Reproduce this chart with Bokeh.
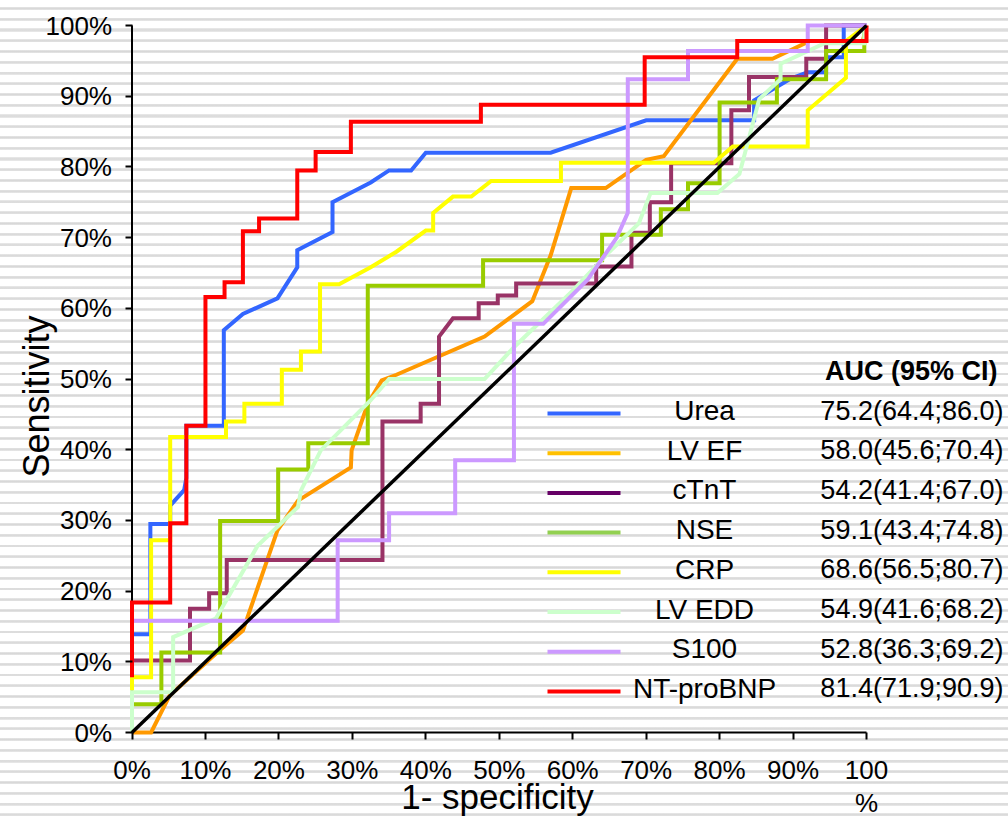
import math
from bokeh.plotting import figure
from bokeh.models import Range1d, FixedTicker, Label
from bokeh.embed import file_html
from bokeh.resources import INLINE

# ---------------- data (percent) ----------------
names = ["Urea", "LV EF", "cTnT", "NSE", "CRP", "LV EDD", "S100", "NT-proBNP"]
auc_text = ["75.2(64.4;86.0)", "58.0(45.6;70.4)", "54.2(41.4;67.0)", "59.1(43.4;74.8)",
            "68.6(56.5;80.7)", "54.9(41.6;68.2)", "52.8(36.3;69.2)", "81.4(71.9;90.9)"]
line_colors = ["#3366FF", "#FF9900", "#993366", "#99CC00", "#FFFF00", "#CCFFCC", "#CC99FF", "#FF0000"]
legend_colors = ["#3366FF", "#FFC000", "#660066", "#92D050", "#FFFF00", "#CCFFCC", "#CC99FF", "#FF0000"]

urea_x = [0, 2.5, 2.5, 5.2, 5.2, 7.1, 7.4, 7.4, 12.5, 12.5, 15.1, 19.8, 22.5, 22.5, 27.3, 27.3, 32.5,
          35, 38, 40, 57, 70, 84.7, 84.7, 89.7, 92, 94.5, 94.5, 96.9, 96.9, 100]
urea_y = [13.9, 13.9, 29.5, 29.5, 32.1, 34.3, 36, 43.4, 43.4, 56.9, 59.2, 61.4, 65.8, 68.2, 70.8, 75,
          77.8, 79.5, 79.5, 82, 82, 86.6, 86.6, 89.4, 92.5, 93.4, 93.4, 95.5, 95.5, 100, 100]

lvef_x = [0, 2.6, 5.1, 11.9, 15.1, 19.8, 22.6, 29.8, 29.9, 32.1, 34, 36, 48, 54.5, 57, 59.8, 64.5,
          70, 72.4, 82.4, 87.2, 92.3, 99.5, 100]
lvef_y = [0, 0, 5.2, 11.6, 14.4, 28.6, 32.8, 37.5, 39.9, 46.5, 49.8, 50.6, 56, 61, 67.5, 77, 77,
          81, 81.5, 95.3, 95.3, 97.8, 97.8, 100]

ctnt_x = [0, 7.9, 7.9, 10.5, 10.5, 12.9, 12.9, 34.1, 34.1, 39.3, 39.3, 41.8, 41.8, 43.7, 47.2, 47.2,
          49.8, 49.8, 52.3, 52.3, 63.2, 63.2, 68, 68, 70.5, 70.5, 73.4, 73.4, 81.6, 81.6, 84, 84,
          91.8, 91.8, 94.5, 94.5, 100]
ctnt_y = [10.2, 10.2, 17.5, 17.5, 19.7, 19.7, 24.4, 24.4, 44, 44, 46.5, 46.5, 56, 58.6, 58.6, 60.7,
          60.7, 61.8, 61.8, 63.5, 63.5, 65.9, 65.9, 70.7, 70.7, 75, 75, 80.5, 80.5, 88, 88, 92.7,
          92.7, 95.3, 95.3, 100, 100]

nse_x = [0, 4, 4, 12, 12, 19.9, 19.9, 24, 24, 32.1, 32.1, 47.8, 47.8, 64, 64, 72, 72, 75.7, 75.7,
         80, 80, 87.8, 87.8, 94.5, 94.5, 99.7, 99.7]
nse_y = [4, 4, 11.3, 11.3, 29.9, 29.9, 37.2, 37.2, 40.9, 40.9, 63.2, 63.2, 66.8, 66.8, 70.4, 70.4,
         74, 74, 77.7, 77.7, 89.1, 89.1, 92.4, 92.4, 96.4, 96.4, 100]

crp_x = [0, 0, 2.6, 2.6, 5.2, 5.2, 12.8, 12.8, 15.3, 15.3, 20.4, 20.4, 23, 23, 25.6, 25.6, 28.2,
         32.5, 36, 40, 41, 41, 43.7, 46.2, 48.9, 58.4, 58.4, 79.2, 81.8, 92, 92, 97.2, 97.2, 100]
crp_y = [5.9, 7.8, 7.8, 27.2, 27.2, 41.8, 41.8, 44, 44, 46.5, 46.5, 51.3, 51.3, 53.9, 53.9, 63.4,
         63.4, 65.8, 68, 71, 71, 73.5, 75.8, 75.8, 78, 78, 80.6, 80.6, 82.9, 82.9, 88, 92.6, 97.8, 100]

lvedd_x = [0, 0, 5.6, 5.6, 11.4, 17.1, 22.6, 23, 25.7, 32.5, 35, 48, 52, 60, 65, 69, 70.6, 79.7,
           82.7, 85.4, 88.3, 88.3, 94.3, 99.7, 99.7]
lvedd_y = [0, 5.7, 5.7, 13.5, 16.1, 26.4, 31.9, 34.2, 39.9, 47, 50, 50, 54.5, 62.5, 68, 72, 76.3,
           76.3, 79, 89.6, 92.4, 94.6, 97.5, 97.5, 100]

s100_x = [0, 28, 28, 35, 35, 44, 44, 52, 52, 56, 62, 66, 67.5, 67.5, 75.7, 75.7, 92, 92, 100]
s100_y = [15.8, 15.8, 27.2, 27.2, 31, 31, 38.5, 38.5, 57.8, 57.8, 64, 70, 73.5, 92.4, 92.4, 96.4,
          96.4, 100, 100]

bnp_x = [0, 0, 5.2, 5.2, 7.4, 7.4, 10, 10, 12.6, 12.6, 15.1, 15.1, 17.3, 17.3, 22.5, 22.5, 25, 25,
         29.8, 29.8, 47.5, 47.5, 69.8, 69.8, 82.4, 82.4, 100, 100]
bnp_y = [7.8, 18.4, 18.4, 29.6, 29.6, 43.4, 43.4, 61.6, 61.6, 63.7, 63.7, 70.9, 70.9, 72.7, 72.7,
         79.5, 79.5, 82.1, 82.1, 86.4, 86.4, 88.8, 88.8, 95.5, 95.5, 97.8, 97.8, 100]

ref_x = [0, 100]
ref_y = [0, 100]

ticks = [0, 10, 20, 30, 40, 50, 60, 70, 80, 90, 100]
x_tick_labels = ["0%", "10%", "20%", "30%", "40%", "50%", "60%", "70%", "80%", "90%", "100\n%"]
y_tick_labels = ["0%", "10%", "20%", "30%", "40%", "50%", "60%", "70%", "80%", "90%", "100%"]
x_title = "1- specificity"
y_title = "Sensitivity"
legend_header = "AUC (95% CI)"

series_x = [urea_x, lvef_x, ctnt_x, nse_x, crp_x, lvedd_x, s100_x, bnp_x]
series_y = [urea_y, lvef_y, ctnt_y, nse_y, crp_y, lvedd_y, s100_y, bnp_y]

# ---------------- layout ----------------
FONT = "Liberation Sans"
W, H = 1008, 818
ORIGIN_X, ORIGIN_Y = 131.5, 732.0      # pixel position of (0%, 0%)
px_x = 734.5 / 100.0                   # px per percent horizontally
px_y = 707.0 / 100.0                   # px per percent vertically
x0 = -ORIGIN_X / px_x
x1 = x0 + W / px_x
y0 = -(H - ORIGIN_Y) / px_y
y1 = y0 + H / px_y

def dx(px):
    return (px - ORIGIN_X) / px_x

def dy(py):
    return (ORIGIN_Y - py) / px_y

p = figure(width=W, height=H, output_backend="svg", toolbar_location=None,
           x_range=Range1d(x0, x1), y_range=Range1d(y0, y1),
           min_border=0, min_border_left=0, min_border_right=0,
           min_border_top=0, min_border_bottom=0)
p.background_fill_color = None
p.border_fill_color = None
p.outline_line_color = None
p.grid.visible = False
p.styles = {
    "background-color": "#ffffff",
    "background-image": "repeating-linear-gradient(180deg, #ffffff 0px, #ffffff 7px, "
                        "#e6e6e6 7px, #d8d8d8 8.5px, #e6e6e6 10px, #ffffff 10px, #ffffff 10.75px)",
}

for ax, labels in ((p.xaxis[0], x_tick_labels), (p.yaxis[0], y_tick_labels)):
    ax.fixed_location = 0
    ax.ticker = FixedTicker(ticks=ticks, minor_ticks=[])
    ax.bounds = (0, 100)
    ax.axis_line_color = None
    ax.major_tick_out = 7
    ax.major_tick_in = 0
    ax.minor_tick_out = 0
    ax.minor_tick_in = 0
    ax.major_tick_line_width = 2
    ax.major_tick_line_color = "black"
    ax.major_label_text_font = FONT
    ax.major_label_text_font_size = "26px"
    ax.major_label_text_color = "black"
    ax.major_label_overrides = {t: s for t, s in zip(ticks, labels)}
p.xaxis[0].major_label_standoff = 15
p.xaxis[0].major_label_text_line_height = 1.1
p.yaxis[0].major_label_standoff = 13

# axis lines at 0
p.segment(x0=[0, 0], y0=[0, 0], x1=[0, 100], y1=[100, 0], line_color="black", line_width=2)

# curves
for xs, ys, c in zip(series_x, series_y, line_colors):
    p.line(xs, ys, line_color=c, line_width=4, line_join="miter")

# reference diagonal
p.line(ref_x, ref_y, line_color="black", line_width=3.5)

# legend
row0 = 410.0
step = 39.7
row_y = [dy(row0 + i * step) for i in range(len(names))]
p.segment(x0=[dx(547)] * len(names), x1=[dx(620)] * len(names),
          y0=[y - 3 / px_y for y in row_y], y1=[y - 3 / px_y for y in row_y],
          line_color=legend_colors, line_width=4)
for nm, auc, y in zip(names, auc_text, row_y):
    p.add_layout(Label(x=dx(704), y=y, text=nm, text_align="center", text_baseline="middle",
                       text_font=FONT, text_font_size="28px", text_color="black"))
    p.add_layout(Label(x=dx(1003), y=y, text=auc, text_align="right", text_baseline="middle",
                       text_font=FONT, text_font_size="27px", text_color="black"))
p.add_layout(Label(x=dx(997), y=dy(370), text=legend_header, text_align="right",
                   text_baseline="middle", text_font=FONT, text_font_size="27px",
                   text_font_style="bold", text_color="black"))

# axis titles
p.add_layout(Label(x=dx(36), y=dy(396), text=y_title, angle=math.pi / 2,
                   text_align="center", text_baseline="middle", text_font=FONT,
                   text_font_size="36px", text_color="black"))
p.add_layout(Label(x=dx(497), y=dy(796), text=x_title, text_align="center",
                   text_baseline="middle", text_font=FONT, text_font_size="35px",
                   text_color="black"))

open("out.html", "w").write(file_html(p, INLINE))
